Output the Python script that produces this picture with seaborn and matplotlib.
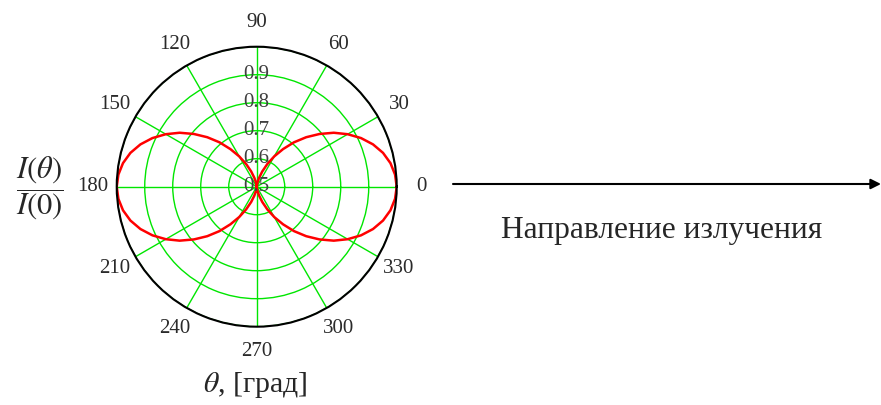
import numpy as np
import seaborn as sns
import matplotlib.pyplot as plt

# angle in degrees and relative intensity I(theta)/I(0)
theta_deg = list(range(0, 361, 5))
intensity = [1.000, 0.996, 0.985, 0.967, 0.942, 0.911, 0.875, 0.836, 0.793, 0.750,
             0.707, 0.664, 0.625, 0.589, 0.558, 0.533, 0.515, 0.504, 0.500,
             0.504, 0.515, 0.533, 0.558, 0.589, 0.625, 0.664, 0.707, 0.750,
             0.793, 0.836, 0.875, 0.911, 0.942, 0.967, 0.985, 0.996, 1.000,
             0.996, 0.985, 0.967, 0.942, 0.911, 0.875, 0.836, 0.793, 0.750,
             0.707, 0.664, 0.625, 0.589, 0.558, 0.533, 0.515, 0.504, 0.500,
             0.504, 0.515, 0.533, 0.558, 0.589, 0.625, 0.664, 0.707, 0.750,
             0.793, 0.836, 0.875, 0.911, 0.942, 0.967, 0.985, 0.996, 1.000]

angle_ticks = [0, 30, 60, 90, 120, 150, 180, 210, 240, 270, 300, 330]
r_ticks = [0.5, 0.6, 0.7, 0.8, 0.9]
r_labels = ["0.5", "0.6", "0.7", "0.8", "0.9"]

sns.set_style("white")
plt.rcParams['font.family'] = ['Liberation Serif', 'DejaVu Serif']
plt.rcParams['mathtext.fontset'] = 'stix'

fig = plt.figure(figsize=(8.81, 4.05), dpi=100)
ax = fig.add_axes([0.1325, 0.1933, 0.3178, 0.6914], projection='polar')

sns.lineplot(x=np.deg2rad(theta_deg), y=intensity, ax=ax, color='#ff0000',
             linewidth=1.8, sort=False, estimator=None)

ax.set_ylim(0.5, 1.0)
ax.set_yticks(r_ticks + [1.0])
ax.set_yticklabels([])
ax.set_thetagrids(angle_ticks, [str(a) for a in angle_ticks])
ax.tick_params(axis='x', pad=7, labelsize=15, colors='#2a2a2a')
ax.grid(True, color='#00e600', linewidth=1.0)
ax.spines['polar'].set_color('black')
ax.spines['polar'].set_linewidth(1.5)
ax.set_xlabel('')
ax.set_ylabel('')

for r, lab in zip(r_ticks, r_labels):
    ax.text(np.pi / 2, r, lab, ha='center', va='center', fontsize=15,
            color='#404040')

fig.text(0.0455, 0.535, r'$\dfrac{I(\theta)}{I(0)}$', fontsize=22,
         ha='center', va='center')
fig.text(0.2895, 0.05, r'$\theta$, [град]', fontsize=21.5, ha='center',
         va='center')

ax.annotate('', xy=(881, 405 - 184), xycoords='figure pixels',
            xytext=(453, 405 - 184), textcoords='figure pixels',
            arrowprops=dict(arrowstyle='-|>,head_length=0.6,head_width=0.3',
                            color='black', lw=1.5, shrinkA=0, shrinkB=0))
fig.text(0.7514, 0.412, 'Направление излучения', fontsize=22.7, ha='center',
         va='baseline')

fig.savefig('out.png', dpi=100)
